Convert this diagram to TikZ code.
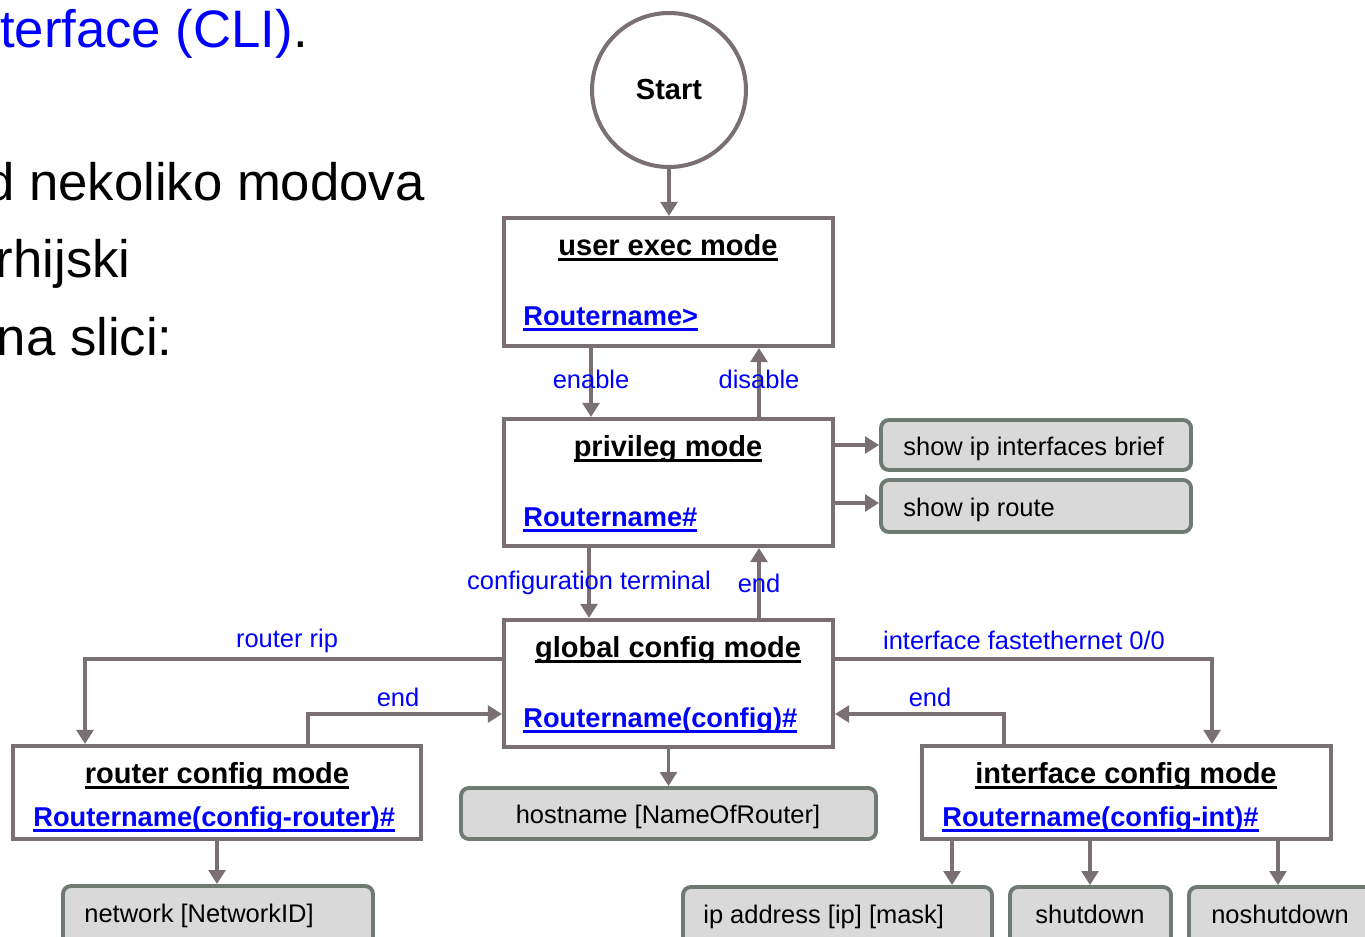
\documentclass[tikz,border=0pt]{standalone}
\usepackage{fontspec}
\setmainfont{Liberation Sans}
\usetikzlibrary{arrows.meta,fit}

\definecolor{trait}{HTML}{7A7073}
\definecolor{bordcmd}{HTML}{6E7A72}
\definecolor{fondcmd}{HTML}{D9D9D9}
\definecolor{bleu}{HTML}{0000FF}

\newsavebox{\boiteul}
\newcommand{\souligne}[1]{\sbox{\boiteul}{#1}\rlap{\rule[-3.4pt]{\wd\boiteul}{1.5pt}}\usebox{\boiteul}}

\tikzset{mode/.style = {rectangle, draw=trait, line width=2.3pt, fill=white, inner sep=0pt},
         cmd/.style = {rectangle, rounded corners=4.5pt, draw=bordcmd, line width=2.2pt,
                       fill=fondcmd, inner sep=0pt},
         titre/.style = {font=\fontsize{16.5}{19}\selectfont\bfseries, inner sep=0pt},
         invite/.style = {font=\fontsize{15.5}{18}\selectfont\bfseries, text=bleu, inner sep=0pt},
         etiq/.style = {font=\fontsize{14.5}{17}\selectfont, text=bleu, inner sep=0pt},
         cmdtxt/.style = {font=\fontsize{14.5}{17}\selectfont, inner sep=0pt},
         grand/.style = {font=\fontsize{30}{36}\selectfont, inner sep=0pt},
         fleche/.style = {draw=trait, line width=2.2pt, -{Triangle[length=8pt,width=9.5pt]}}
        }

\begin{document}
\begin{tikzpicture}[x=0.02cm, y=-0.02cm]
  \clip (0,0) rectangle (1365,936);

  % texte du haut
  \node[grand, anchor=base east] (t-cli) at (308,48) {\textcolor{bleu}{terface (CLI)}.};
  \node[grand, anchor=base east] (t-l1) at (425,200) {d nekoliko modova};
  \node[grand, anchor=base east] (t-l2) at (131,277) {rhijski};
  \node[grand, anchor=base east] (t-l3) at (173,355) {na slici:};

  % modes
  \node[circle, draw=trait, line width=2.3pt, minimum size=3.08cm, inner sep=0pt,
        font=\fontsize{16.5}{19}\selectfont\bfseries] (start) at (669,90) {Start};

  \node[mode, fit={(504,218) (833,346)}] (user) {};
  \node[titre, anchor=base] (t-user) at (668,255) {\souligne{user exec mode}};
  \node[invite, anchor=base west] (p-user) at (523,325) {\souligne{Routername>}};

  \node[mode, fit={(504,419) (833,546)}] (priv) {};
  \node[titre, anchor=base] (t-priv) at (668,456) {\souligne{privileg mode}};
  \node[invite, anchor=base west] (p-priv) at (523,526) {\souligne{Routername\#}};

  \node[mode, fit={(504,620) (833,747)}] (glob) {};
  \node[titre, anchor=base] (t-glob) at (668,657) {\souligne{global config mode}};
  \node[invite, anchor=base west] (p-glob) at (523,727) {\souligne{Routername(config)\#}};

  \node[mode, fit={(13,746) (421,839)}] (rcfg) {};
  \node[titre, anchor=base] (t-rcfg) at (217,783) {\souligne{router config mode}};
  \node[invite, anchor=base west] (p-rcfg) at (33,826) {\souligne{Routername(config-router)\#}};

  \node[mode, fit={(922,746) (1331,839)}] (icfg) {};
  \node[titre, anchor=base] (t-icfg) at (1126,783) {\souligne{interface config mode}};
  \node[invite, anchor=base west] (p-icfg) at (942,826) {\souligne{Routername(config-int)\#}};

  % commandes
  \node[cmd, fit={(881,420) (1191,470)}] (sipb) {};
  \node[cmdtxt, anchor=base west] (t-sipb) at (903,455) {show ip interfaces brief};
  \node[cmd, fit={(881,480) (1191,532)}] (sipr) {};
  \node[cmdtxt, anchor=base west] (t-sipr) at (903,516) {show ip route};
  \node[cmd, fit={(461,788) (876,839)}] (host) {};
  \node[cmdtxt, anchor=base] (t-host) at (668,823) {hostname [NameOfRouter]};
  \node[cmd, fit={(63,886) (373,960)}] (netw) {};
  \node[cmdtxt, anchor=base west] (t-netw) at (84,922) {network [NetworkID]};
  \node[cmd, fit={(683,887) (992,960)}] (ipad) {};
  \node[cmdtxt, anchor=base west] (t-ipad) at (703,923) {ip address [ip] [mask]};
  \node[cmd, fit={(1010,887) (1171,960)}] (shut) {};
  \node[cmdtxt, anchor=base] (t-shut) at (1090,923) {shutdown};
  \node[cmd, fit={(1189,887) (1390,960)}] (nosh) {};
  \node[cmdtxt, anchor=base] (t-nosh) at (1280,923) {noshutdown};

  % reperes
  \coordinate (x-en) at (591,0);
  \coordinate (x-dis) at (759,0);
  \coordinate (x-ct) at (589,0);
  \coordinate (x-rip) at (85,0);
  \coordinate (x-rend) at (308,0);
  \coordinate (x-int) at (1212,0);
  \coordinate (x-iend) at (1004,0);
  \coordinate (x-ipad) at (952,0);
  \coordinate (x-shut) at (1090,0);
  \coordinate (x-nosh) at (1278,0);
  \coordinate (y-sipb) at (0,445);
  \coordinate (y-sipr) at (0,503);
  \coordinate (y-rip) at (0,659);
  \coordinate (y-end) at (0,714);

  % fleches
  \draw[fleche] (start.south) -- (user.north -| start.south);
  \draw[fleche] (user.south -| x-en) -- node[etiq, yshift=2pt] (l-en) {enable} (priv.north -| x-en);
  \draw[fleche] (priv.north -| x-dis) -- node[etiq, yshift=2pt] (l-dis) {disable} (user.south -| x-dis);
  \draw[fleche] (priv.east |- y-sipb) -- (sipb.west |- y-sipb);
  \draw[fleche] (priv.east |- y-sipr) -- (sipr.west |- y-sipr);
  \draw[fleche] (priv.south -| x-ct) -- node[etiq] (l-ct) {configuration terminal} (glob.north -| x-ct);
  \draw[fleche] (glob.north -| x-dis) -- node[etiq] (l-end) {end} (priv.south -| x-dis);
  \draw[fleche] (glob.west |- y-rip) -| (rcfg.north -| x-rip);
  \node[etiq] (l-rip) at (287,641) {router rip};
  \draw[fleche] (rcfg.north -| x-rend) |- (glob.west |- y-end);
  \node[etiq] (l-rend) at (398,697) {end};
  \draw[fleche] (glob.east |- y-rip) -| (icfg.north -| x-int);
  \node[etiq] (l-int) at (1024,640) {interface fastethernet 0/0};
  \draw[fleche] (icfg.north -| x-iend) |- (glob.east |- y-end);
  \node[etiq] (l-iend) at (930,697) {end};
  \draw[fleche] (glob.south) -- (host.north -| glob.south);
  \draw[fleche] (rcfg.south) -- (netw.north -| rcfg.south);
  \draw[fleche] (icfg.south -| x-ipad) -- (ipad.north -| x-ipad);
  \draw[fleche] (icfg.south -| x-shut) -- (shut.north -| x-shut);
  \draw[fleche] (icfg.south -| x-nosh) -- (nosh.north -| x-nosh);
\end{tikzpicture}
\end{document}
